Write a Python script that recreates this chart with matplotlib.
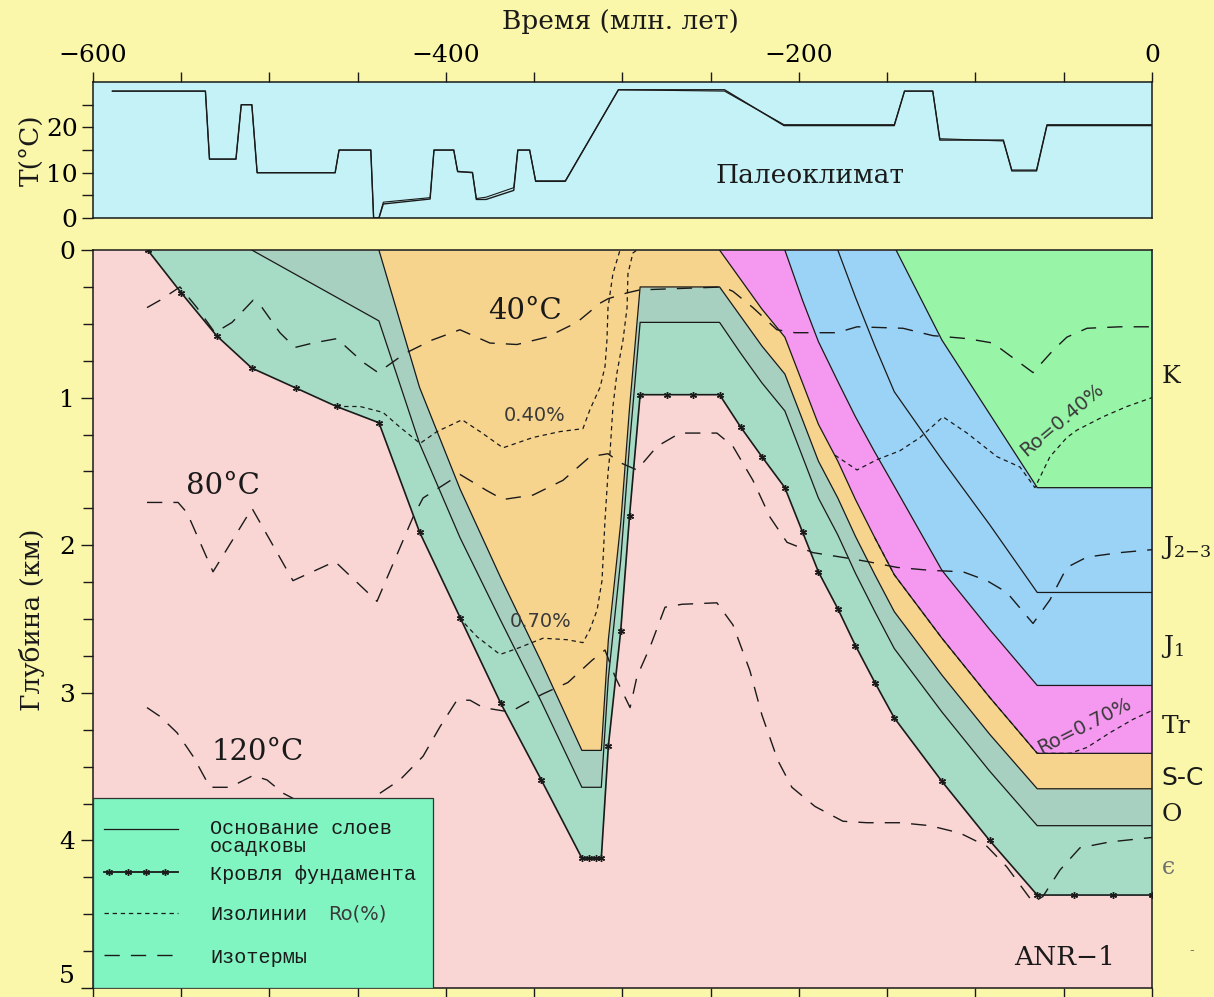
import matplotlib
matplotlib.use("Agg")
import matplotlib.pyplot as plt
from matplotlib.patches import Rectangle
from matplotlib.lines import Line2D
from matplotlib.ticker import MultipleLocator, FixedLocator

plt.rcParams["font.family"] = ["DejaVu Serif"]
plt.rcParams["mathtext.fontset"] = "dejavuserif"

# ---------------- paleoclimate: surface temperature (°C) ----------------
clim_t = [-589, -536.3, -534, -519, -516, -510, -507, -462.8, -460.6, -442.6,
          -441, -438, -435.5, -409, -406.8, -395.6, -393.4, -385, -382.8,
          -377.3, -361.6, -359.3, -352.6, -349.2, -332.4, -302.3, -242.2,
          -208.5, -146, -140.2, -124.2, -120.2, -84.2, -79.4, -65.4, -59.5, 0]
clim_temp = [28, 28, 13, 13, 25, 25, 10, 10, 15, 15,
             0, 0, 3.1, 4.2, 15, 15, 10.3, 10, 4.1,
             4.1, 6.1, 15, 15, 8.1, 8.1, 28.3, 28.3,
             20.4, 20.4, 28, 28, 17.2, 17.2, 10.4, 10.4, 20.4, 20.4]
clim_temp_alt = [28, 28, 13, 13, 25, 25, 10, 10, 15, 15,
                 0, 0, 3.5, 4.5, 15, 15, 10.2, 10.1, 4.3,
                 4.6, 6.7, 15, 15, 8.2, 8.2, 28.3, 28.0,
                 20.6, 20.6, 28, 28, 17.5, 17.0, 10.6, 10.6, 20.6, 20.6]

# ---------------- burial history: depth (km) of layer bases ----------------
basement_t = [-569, -550, -530, -510, -485, -462, -438, -415, -392, -369, -346,
              -323, -319, -315, -312, -308, -301, -296, -290, -275, -260, -245,
              -233, -221, -208, -198, -189, -178, -168, -157, -146, -119, -92,
              -65, -44, -22, 0]
basement_d = [0.00, 0.29, 0.58, 0.80, 0.935, 1.06, 1.17, 1.91, 2.49, 3.07, 3.59,
              4.12, 4.12, 4.12, 4.12, 3.36, 2.58, 1.80, 0.98, 0.98, 0.98, 0.98,
              1.20, 1.40, 1.61, 1.91, 2.18, 2.43, 2.68, 2.93, 3.17, 3.60, 4.00,
              4.37, 4.37, 4.37, 4.37]

o_base_t = [-510, -438, -415, -392, -369, -346, -323, -312, -308, -301, -296,
            -290, -245, -233, -221, -208, -198, -189, -178, -168, -157, -146,
            -119, -92, -65, 0]
o_base_d = [0.00, 0.48, 1.31, 1.95, 2.51, 3.06, 3.64, 3.64, 2.90, 2.10, 1.32,
            0.49, 0.49, 0.70, 0.90, 1.09, 1.40, 1.68, 1.93, 2.19, 2.45, 2.70,
            3.13, 3.53, 3.90, 3.90]

sc_base_t = [-438, -415, -392, -369, -346, -323, -312, -308, -301, -296, -290,
             -245, -233, -221, -208, -198, -189, -178, -168, -157, -146, -119,
             -92, -65, 0]
sc_base_d = [0.00, 0.93, 1.62, 2.22, 2.79, 3.39, 3.39, 2.64, 1.85, 1.07, 0.25,
             0.25, 0.45, 0.65, 0.84, 1.15, 1.43, 1.68, 1.94, 2.20, 2.45, 2.88,
             3.28, 3.65, 3.65]

tr_base_t = [-245, -233, -221, -208, -198, -189, -178, -168, -157, -146, -119,
             -92, -65, 0]
tr_base_d = [0.00, 0.20, 0.40, 0.59, 0.90, 1.18, 1.43, 1.69, 1.95, 2.20, 2.63,
             3.03, 3.41, 3.41]

j1_base_t = [-208, -198, -189, -178, -168, -157, -146, -119, -92, -65, 0]
j1_base_d = [0.00, 0.34, 0.62, 0.89, 1.13, 1.37, 1.60, 2.17, 2.57, 2.95, 2.95]

j23_base_t = [-178, -168, -157, -146, -119, -92, -65, 0]
j23_base_d = [0.00, 0.32, 0.65, 0.96, 1.42, 1.86, 2.32, 2.32]

k_base_t = [-145, -119, -92, -65, 0]
k_base_d = [0.00, 0.61, 1.11, 1.61, 1.61]

# ---------------- isotherms (°C) ----------------
iso40_t = [-569.4, -562.0, -550.7, -541.1, -530.9, -521.2, -509.3, -504.2,
           -494.1, -485.6, -475.4, -461.8, -454.4, -447.0, -438.5, -423.2,
           -407.9, -392.1, -375.1, -359.8, -342.8, -325.8, -312.7, -308.2,
           -297.4, -290.1, -243.1, -237.4, -226.1, -212.5, -202.3, -178.5,
           -167.1, -141.1, -124.1, -104.8, -90.1, -82.2, -67.4, -56.1, -48.2,
           -36.8, -18.1, 0]
iso40_d = [0.39, 0.34, 0.25, 0.39, 0.56, 0.49, 0.34, 0.39,
           0.56, 0.66, 0.63, 0.60, 0.68, 0.76, 0.83, 0.70,
           0.61, 0.54, 0.63, 0.64, 0.59, 0.49, 0.36, 0.33,
           0.29, 0.27, 0.25, 0.28, 0.39, 0.54, 0.56, 0.56,
           0.52, 0.53, 0.58, 0.60, 0.63, 0.70, 0.83, 0.68, 0.59,
           0.53, 0.52, 0.52]

iso80_t = [-569.4, -551.8, -546.7, -532.0, -509.9, -486.7, -462.9, -439.1,
           -418.7, -413.0, -392.1, -376.8, -367.7, -350.7, -333.7, -318.4,
           -308.2, -301.4, -291.8, -280.4, -267.4, -246.5, -237.4, -226.1,
           -216.4, -206.8, -192.1, -171.1, -161.5, -144.5, -125.8, -107.1,
           -93.5, -82.2, -67.4, -57.8, -48.2, -36.8, -18.1, 0]
iso80_d = [1.71, 1.71, 1.78, 2.18, 1.75, 2.24, 2.11, 2.38,
           1.81, 1.68, 1.52, 1.63, 1.69, 1.66, 1.56, 1.40,
           1.38, 1.44, 1.49, 1.33, 1.24, 1.24, 1.33, 1.56,
           1.81, 1.98, 2.05, 2.09, 2.11, 2.15, 2.17, 2.18,
           2.24, 2.32, 2.53, 2.37, 2.15, 2.08, 2.05, 2.03]

iso120_t = [-569.4, -562.0, -552.4, -543.3, -533.7, -522.4, -509.3, -501.4,
            -492.3, -471.4, -451.6, -437.4, -426.1, -413.0, -403.4, -393.8,
            -386.4, -379.0, -363.7, -345.6, -330.9, -317.3, -309.9, -304.2,
            -295.7, -291.8, -284.4, -275.9, -266.3, -246.5, -237.4, -227.8,
            -221.0, -211.9, -204.0, -190.9, -175.1, -161.5, -142.8, -125.8,
            -108.8, -93.5, -82.2, -67.4, -61.8, -52.1, -40.8, -23.8, 0]
iso120_d = [3.10, 3.16, 3.27, 3.43, 3.64, 3.64, 3.56, 3.59,
            3.68, 3.81, 3.78, 3.68, 3.59, 3.43, 3.23, 3.05,
            3.05, 3.10, 3.13, 3.01, 2.93, 2.78, 2.71, 2.89,
            3.10, 2.89, 2.69, 2.42, 2.40, 2.39, 2.54, 2.85,
            3.15, 3.46, 3.64, 3.77, 3.87, 3.88, 3.88, 3.90,
            3.95, 4.04, 4.18, 4.42, 4.38, 4.20, 4.05, 4.01, 3.98]

# ---------------- vitrinite reflectance isolines Ro (%) ----------------
ro40_a_t = [-462.3, -448.7, -435.7, -426.1, -414.7, -405.1, -390.9, -380.7,
            -367.7, -350.7, -335.4, -322.4, -318.4, -312.7, -309.9, -308.8,
            -308.2, -305.4, -301.4]
ro40_a_d = [1.06, 1.06, 1.10, 1.20, 1.31, 1.23, 1.15, 1.23,
            1.34, 1.27, 1.23, 1.21, 1.08, 0.93, 0.79, 0.61,
            0.39, 0.16, 0.00]
ro40_b_t = [-179.6, -167.1, -155.8, -142.8, -131.4, -118.4, -104.8, -87.8,
            -74.8, -66.3, -57.8, -48.2, -42.5, -27.8, -14.2, 0]
ro40_b_d = [1.39, 1.49, 1.42, 1.36, 1.27, 1.13, 1.24, 1.40,
            1.47, 1.61, 1.40, 1.27, 1.22, 1.13, 1.06, 1.00]

ro70_a_t = [-392.6, -382.4, -369.4, -359.8, -345.0, -331.4, -322.4, -318.4,
            -314.4, -311.6, -309.9, -308.2, -307.1, -305.4, -303.1, -299.7,
            -297.4, -296.9, -294.1, -291.8]
ro70_a_d = [2.49, 2.62, 2.74, 2.70, 2.63, 2.64, 2.66, 2.57,
            2.44, 2.24, 1.83, 1.51, 1.38, 1.06, 0.83, 0.61,
            0.39, 0.16, 0.02, 0.00]
ro70_b_t = [-157, -146, -119, -92, -65, -46.5, -36.8, -23.8, -10.8, 0]
ro70_b_d = [1.95, 2.20, 2.63, 3.03, 3.41, 3.41, 3.37, 3.27, 3.18, 3.12]

# ---------------- labels ----------------
stratigraphy = ["K", "J$_{2{-}3}$", "J$_1$", "Tr", "S-C", "O", "ϵ"]
legend_labels = ["Основание слоев\nосадковы", "Кровля фундамента",
                 "Изолинии", "Изотермы"]

# ---------------- colours ----------------
BG = "#FAF7AA"
C_CLIM = "#C4F2F6"
C_BASE = "#F9D6D4"
C_CAMB = "#A6DCC6"
C_ORD = "#A8D0C0"
C_SC = "#F7D48E"
C_TR = "#F598F0"
C_JUR = "#9BD3F7"
C_K = "#98F5A8"
C_LEG = "#80F5C2"
INK = "#1A1A1A"

fig = plt.figure(figsize=(12.14, 9.97), dpi=100)
fig.patch.set_facecolor(BG)

ax_t = fig.add_axes([0.0766, 0.7813, 0.8723, 0.1364])
ax = fig.add_axes([0.0766, 0.0090, 0.8723, 0.7402])

# ---------------- paleoclimate panel ----------------
ax_t.set_facecolor(C_CLIM)
ax_t.plot(clim_t, clim_temp_alt, color=INK, lw=0.8)
ax_t.plot(clim_t, clim_temp, color=INK, lw=1.0)
ax_t.set_xlim(-600, 0)
ax_t.set_ylim(0, 30)
ax_t.xaxis.set_major_locator(FixedLocator([-600, -400, -200, 0]))
ax_t.xaxis.set_minor_locator(MultipleLocator(50))
ax_t.yaxis.set_major_locator(FixedLocator([0, 10, 20]))
ax_t.yaxis.set_minor_locator(FixedLocator([5, 15, 25]))
ax_t.tick_params(axis="x", which="both", top=True, bottom=False,
                 labeltop=True, labelbottom=False, direction="out",
                 length=7, width=1, labelsize=18, pad=4, color=INK)
ax_t.tick_params(axis="y", which="both", left=True, right=False,
                 direction="out", length=8, width=1, labelsize=18, pad=3,
                 color=INK)
ax_t.text(-193.8, 9.3, "Палеоклимат", fontsize=19, ha="center", va="center",
          color=INK)
for s in ax_t.spines.values():
    s.set_linewidth(1.1)
    s.set_color(INK)

# ---------------- burial history panel ----------------
ax.set_facecolor(C_BASE)
layers = [
    (basement_t, basement_d, C_CAMB),
    (o_base_t, o_base_d, C_ORD),
    (sc_base_t, sc_base_d, C_SC),
    (tr_base_t, tr_base_d, C_TR),
    (j1_base_t, j1_base_d, C_JUR),
    (k_base_t, k_base_d, C_K),
]
for t, d, c in layers:
    ax.fill_between(t, 0, d, color=c, lw=0, zorder=1)

for t, d in [(o_base_t, o_base_d), (sc_base_t, sc_base_d),
             (tr_base_t, tr_base_d), (j1_base_t, j1_base_d),
             (j23_base_t, j23_base_d), (k_base_t, k_base_d)]:
    ax.plot(t, d, color=INK, lw=0.9, zorder=2)

ax.plot(basement_t, basement_d, color=INK, lw=1.2, marker=(6, 2, 0),
        ms=5, mew=1.0, zorder=3)

iso_style = dict(color=INK, lw=1.0, dashes=(11, 8), zorder=3)
for t, d in [(iso40_t, iso40_d), (iso80_t, iso80_d), (iso120_t, iso120_d)]:
    ax.plot(t, d, **iso_style)

ro_style = dict(color=INK, lw=0.9, dashes=(3.5, 3), zorder=3)
for t, d in [(ro40_a_t, ro40_a_d), (ro40_b_t, ro40_b_d),
             (ro70_a_t, ro70_a_d), (ro70_b_t, ro70_b_d)]:
    ax.plot(t, d, **ro_style)

# isotherm and isoline annotations
ax.text(-355.2, 0.41, "40°C", fontsize=21, ha="center", va="center",
        color=INK, zorder=4)
ax.text(-526.3, 1.60, "80°C", fontsize=21, ha="center", va="center",
        color=INK, zorder=4)
ax.text(-506.5, 3.40, "120°C", fontsize=21, ha="center", va="center",
        color=INK, zorder=4)
ro_font = dict(family="DejaVu Sans", fontsize=14, color="#3A3A3A",
               ha="center", va="center", zorder=4)
ax.text(-349.6, 1.12, "0.40%", **ro_font)
ax.text(-346.2, 2.52, "0.70%", **ro_font)
ax.text(-51.0, 1.15, "Ro=0.40%", rotation=40, **ro_font)
ax.text(-38.0, 3.22, "Ro=0.70%", rotation=27, **ro_font)
ax.text(-49.3, 4.79, "ANR−1", fontsize=19, ha="center", va="center",
        color=INK, zorder=4)

# stratigraphic index on the right, centred on present-day layer intervals
present_tops = [0, k_base_d[-1], j23_base_d[-1], j1_base_d[-1],
                tr_base_d[-1], sc_base_d[-1], o_base_d[-1]]
present_bases = present_tops[1:] + [basement_d[-1]]
for lab, top, bot in zip(stratigraphy, present_tops, present_bases):
    kw = dict(fontsize=18, color=INK)
    if lab == "S-C":
        kw["family"] = "DejaVu Sans"
    if lab == "ϵ":
        kw = dict(fontsize=17, color="#707070")
    ax.text(1.009, (top + bot) / 2 + 0.05, lab,
            transform=ax.get_yaxis_transform(), ha="left", va="center", **kw)

ax.set_xlim(-600, 0)
ax.set_ylim(5, 0)
ax.xaxis.set_major_locator(MultipleLocator(50))
ax.yaxis.set_major_locator(FixedLocator([0, 1, 2, 3, 4, 5]))
ax.yaxis.set_minor_locator(MultipleLocator(0.25))
ax.tick_params(axis="x", which="both", bottom=True, top=False,
               labelbottom=False, direction="out", length=7, width=1,
               color=INK)
ax.tick_params(axis="y", which="major", left=True, right=False,
               direction="out", length=9, width=1, labelsize=18, pad=4,
               color=INK)
ax.tick_params(axis="y", which="minor", left=True, right=False,
               direction="out", length=7, width=1, color=INK)
# keep the lowest depth label inside the canvas
ax.yaxis.get_major_ticks()[-1].label1.set_verticalalignment("bottom")
for s in ax.spines.values():
    s.set_linewidth(1.1)
    s.set_color(INK)

# ---------------- legend ----------------
ax.add_patch(Rectangle((0, 0), 0.321, 0.2575, transform=ax.transAxes,
                       facecolor=C_LEG, edgecolor="#333333", lw=0.9,
                       zorder=5))
lx0, lx1, tx = 0.0104, 0.0803, 0.1105
mono = dict(family="Liberation Mono", fontsize=14.5, color=INK,
            transform=ax.transAxes, ha="left", va="center", zorder=6)
ax.add_line(Line2D([lx0, lx1], [0.2154, 0.2154], transform=ax.transAxes,
                   color=INK, lw=0.9, zorder=6))
ax.text(tx, 0.2168, legend_labels[0].split("\n")[0], **mono)
ax.text(tx, 0.1924, legend_labels[0].split("\n")[1], **mono)
ax.add_line(Line2D([lx0, lx1], [0.1572, 0.1572], transform=ax.transAxes,
                   color=INK, lw=1.3, zorder=6))
ax.add_line(Line2D([0.0151, 0.0327, 0.0504, 0.0680], [0.1572] * 4,
                   transform=ax.transAxes, color=INK, lw=0, marker=(6, 2, 0),
                   ms=5, mew=1.0, zorder=6))
ax.text(tx, 0.1545, legend_labels[1], **mono)
ax.add_line(Line2D([lx0, lx1], [0.1016, 0.1016], transform=ax.transAxes,
                   color=INK, lw=0.9, dashes=(3.5, 3), zorder=6))
ax.text(tx, 0.1003, legend_labels[2], **mono)
ax.text(0.2219, 0.1003, "Ro(%)", family="DejaVu Sans", fontsize=14,
        color="#3A3A3A", transform=ax.transAxes, ha="left", va="center",
        zorder=6)
ax.add_line(Line2D([lx0, lx1], [0.0447, 0.0447], transform=ax.transAxes,
                   color=INK, lw=1.0, dashes=(11, 8), zorder=6))
ax.text(tx, 0.042, legend_labels[3], **mono)

# ---------------- axis titles ----------------
fig.text(0.511, 0.978, "Время (млн. лет)", fontsize=19, ha="center",
         va="center", color=INK)
fig.text(0.026, 0.8495, "T(°C)", fontsize=19, rotation=90, ha="center",
         va="center", color=INK)
fig.text(0.026, 0.378, "Глубина (км)", fontsize=19, rotation=90,
         ha="center", va="center", color=INK)
fig.text(0.982, 0.046, "-", fontsize=10, ha="center", va="center",
         color="#555555")

fig.savefig("out.png", dpi=100, facecolor=BG)
